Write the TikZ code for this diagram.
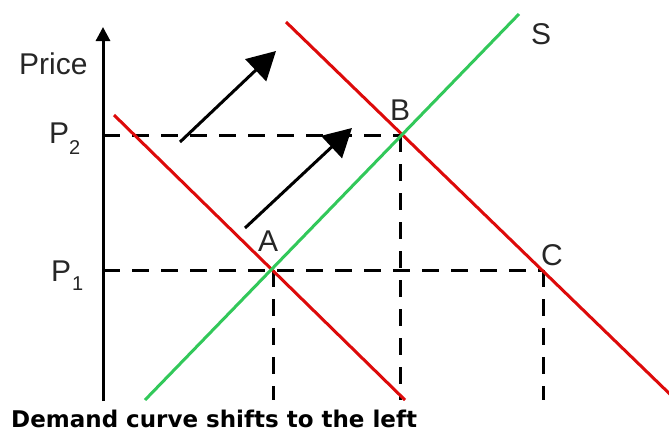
\documentclass[tikz,border=0pt]{standalone}
\usepackage{fontspec}
\setmainfont{Liberation Sans}
\newfontfamily\capfont{DejaVu Sans}
\usetikzlibrary{arrows.meta}
\definecolor{dred}{RGB}{221,10,10}
\definecolor{sgreen}{RGB}{50,200,90}
\begin{document}
\begin{tikzpicture}[x=1pt,y=-1pt,
  lbl/.style={inner sep=0pt, anchor=base west, font=\fontsize{30}{30}\selectfont, text=black!85},
  sub/.style={inner sep=0pt, anchor=base west, font=\fontsize{20}{20}\selectfont, text=black!85},
  axisline/.style={line width=3pt, -{Triangle[length=14pt,width=14pt]}},
  demand/.style={line width=3pt, dred},
  supply/.style={line width=3pt, sgreen},
  guide/.style={line width=3pt, dash pattern=on 17pt off 12pt},
  shiftarrow/.style={line width=3pt, -{Triangle[length=28pt,width=30pt]}},
  caption/.style={inner sep=0pt, anchor=base west, font=\capfont\bfseries\fontsize{23}{23}\selectfont}]
\useasboundingbox (0,0) rectangle (669,432);
% points
\coordinate (O) at (103,401);
\coordinate (Top) at (103,27);
\coordinate (P2) at (103,135);
\coordinate (P1) at (103,270);
\coordinate (A) at (273,270);
\coordinate (B) at (400,135);
\coordinate (C) at (543,270);
\coordinate (Ab) at (273,400);
\coordinate (Bb) at (400,400);
\coordinate (Cb) at (543,400);
\coordinate (D1s) at (114,115);
\coordinate (D1e) at (405,400);
\coordinate (D2s) at (286,22);
\coordinate (D2e) at (676,400);
\coordinate (Ss) at (145,400);
\coordinate (Se) at (519,14);
\coordinate (a1s) at (180,142);
\coordinate (a1e) at (276,51);
\coordinate (a2s) at (245,228);
\coordinate (a2e) at (352,128);
% guides
\draw[guide] (P2) -- (B);
\draw[guide] (P1) -- (C);
\draw[guide] (A) -- (Ab);
\draw[guide] (B) -- (Bb);
\draw[guide] (C) -- (Cb);
% curves
\begin{scope}
\clip (0,0) rectangle (669,400);
\draw[demand] (D1s) -- (D1e);
\draw[demand] (D2s) -- (D2e);
\draw[supply] (Ss) -- (Se);
\end{scope}
% axis
\draw[axisline] (O) -- (Top);
% shift arrows
\draw[shiftarrow] (a1s) -- (a1e);
\draw[shiftarrow] (a2s) -- (a2e);
% labels
\node[lbl] (price) at (19,74) {Price};
\node[lbl] (p2) at (49,143) {P};
\node[sub] (p2s) at (69,154) {2};
\node[lbl] (p1) at (51,281) {P};
\node[sub] (p1s) at (72,290) {1};
\node[lbl] (la) at (258,251) {A};
\node[lbl] (lb) at (390,120) {B};
\node[lbl] (lc) at (541,265) {C};
\node[lbl] (ls) at (531,44) {S};
\node[caption] (cap) at (11,427) {Demand curve shifts to the left};
\end{tikzpicture}
\end{document}
